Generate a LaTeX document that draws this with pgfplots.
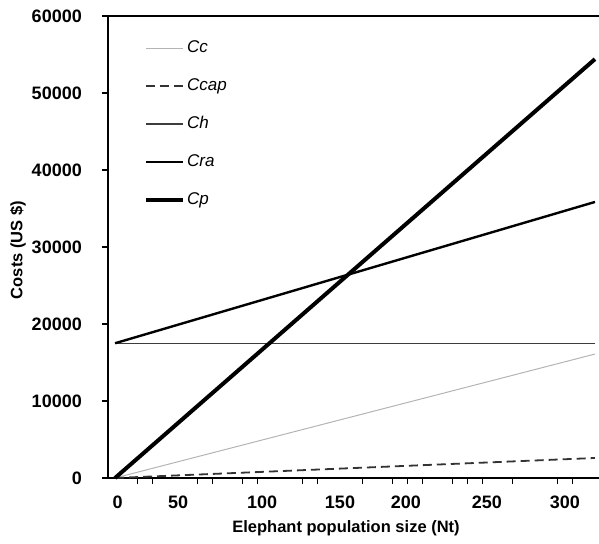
\documentclass[border=0pt]{standalone}
\usepackage{pgfplots}
\pgfplotsset{compat=1.18}
\usepackage{fontspec}
\setmainfont{Liberation Sans}
\definecolor{ccgray}{HTML}{B4B4B4}
\definecolor{chgray}{HTML}{3C3C3C}
\definecolor{capgray}{HTML}{333333}
\begin{document}
\begin{tikzpicture}
\useasboundingbox (0,0) rectangle (599pt,543pt);
\begin{axis}[
  scale only axis,
  width=491pt, height=462pt,
  at={(108pt,65pt)}, anchor=south west,
  xmin=-4.7, xmax=322.7, ymin=0, ymax=60000,
  axis lines=left,
  axis line style={-, line width=1.8pt},
  clip=false,
  tick align=outside,
  major tick length=6pt,
  minor tick length=6pt,
  xtick={1.8,42,98,150,194,248,300},
  xticklabels={0,50,100,150,200,250,300},
  minor xtick={15,25,55,65,85,95,125,135,165,185,195,205,225,235,245,265,295,305},
  major x tick style={draw=none},
  minor x tick style={line width=1.6pt, black},
  ytick={0,10000,20000,30000,40000,50000,60000},
  major y tick style={line width=1.6pt, black},
  scaled y ticks=false,
  /pgf/number format/assume math mode=true,
  /pgf/number format/set thousands separator={},
  ticklabel style={font=\fontsize{18}{21}\selectfont\bfseries, inner sep=0pt},
  xticklabel style={anchor=north, yshift=-12pt},
  yticklabel style={anchor=east, xshift=-20pt},
  every axis x label/.style={at={(rel axis cs:0.4847,-0.1082)}, anchor=center, font=\fontsize{16.5}{20}\selectfont\bfseries},
  every axis y label/.style={at={(rel axis cs:-0.1833,0.4935)}, rotate=90, anchor=center, font=\fontsize{16.5}{20}\selectfont\bfseries},
  xlabel={Elephant population size (Nt)},
  ylabel={Costs (US \$)},
  legend style={at={(rel axis cs:0.0733,0.952)}, anchor=north west, draw=none, fill=none,
    inner sep=0pt, row sep=18.5pt,
    nodes={inner sep=2pt, text height=12pt, text depth=3.5pt, font=\fontsize{17}{20}\selectfont\itshape}},
  legend cell align=left,
  legend image code/.code={\draw[#1] (0pt,0pt) -- (37pt,0pt);},
]
\addplot[ccgray, line width=1pt] coordinates {(0,0) (320,16100)};
\addlegendentry{Cc}
\addplot[capgray, line width=1.8pt, dash pattern=on 9pt off 5pt] coordinates {(0,0) (320,2600)};
\addlegendentry{Ccap}
\addplot[chgray, line width=1.5pt] coordinates {(0,17500) (320,17500)};
\addlegendentry{Ch}
\addplot[black, line width=2.4pt] coordinates {(0,17500) (320,35850)};
\addlegendentry{Cra}
\addplot[black, line width=4pt] coordinates {(0,0) (320,54400)};
\addlegendentry{Cp}
\draw[line width=1.8pt] (rel axis cs:0,1) -- (rel axis cs:1,1);
\end{axis}
\end{tikzpicture}
\end{document}
